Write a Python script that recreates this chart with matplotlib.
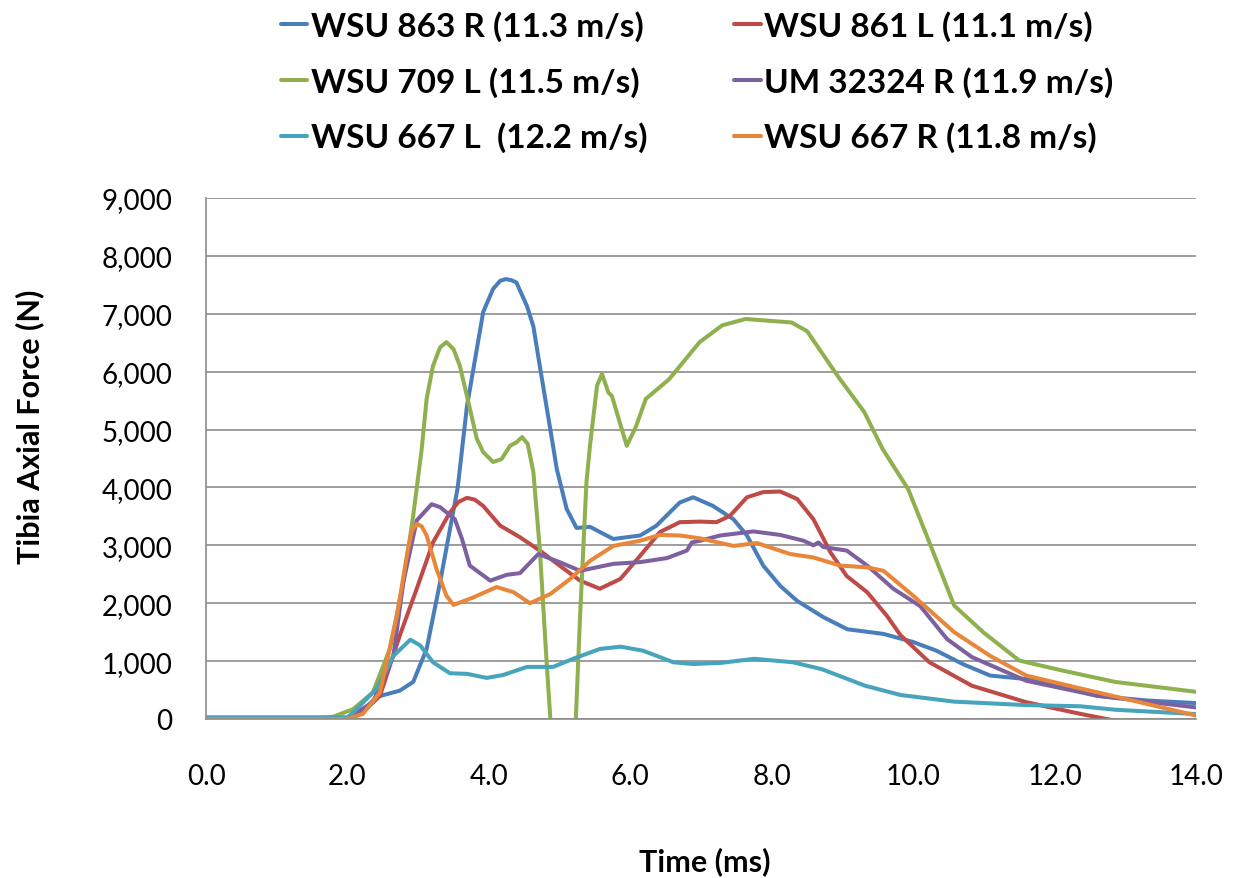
import matplotlib
matplotlib.use("Agg")
import matplotlib.pyplot as plt
from matplotlib.ticker import FuncFormatter, MultipleLocator

plt.rcParams["font.family"] = ["Lato", "DejaVu Sans"]

# Data (time in ms, force in N)
t_863r = [0, 1.0, 2.0, 2.2, 2.41, 2.74, 2.93, 3.12, 3.31, 3.56, 3.69, 3.92, 4.06, 4.16, 4.24,
          4.32, 4.39, 4.54, 4.63, 4.72, 4.91, 4.96, 5.1, 5.24, 5.43, 5.57, 5.76, 6.14, 6.37,
          6.7, 6.89, 7.17, 7.46, 7.65, 7.88, 8.12, 8.36, 8.73, 9.07, 9.58, 10.0, 10.33, 10.7,
          11.09, 11.6, 12.1, 12.6, 13.3, 14.0]
f_863r = [0, 0, 0, 120, 380, 490, 640, 1210, 2360, 4000, 5400, 7030, 7430, 7570, 7600,
          7580, 7540, 7130, 6780, 6100, 4700, 4320, 3630, 3300, 3320, 3230, 3110, 3170, 3340,
          3740, 3830, 3680, 3450, 3170, 2650, 2300, 2040, 1760, 1550, 1470, 1330, 1180, 950,
          750, 690, 560, 400, 320, 275]

t_861l = [0, 2.04, 2.2, 2.46, 2.74, 2.98, 3.21, 3.45, 3.57, 3.69, 3.8, 3.92, 4.16, 4.44, 4.72,
          5.0, 5.29, 5.57, 5.86, 6.14, 6.42, 6.7, 6.99, 7.22, 7.41, 7.65, 7.88, 8.12, 8.36,
          8.59, 8.83, 9.06, 9.35, 9.63, 9.82, 10.23, 10.83, 11.6, 12.36, 12.86, 14.0]
f_861l = [0, 0, 100, 400, 1440, 2250, 3050, 3570, 3750, 3820, 3790, 3680, 3340, 3140, 2910,
          2650, 2390, 2250, 2420, 2820, 3230, 3400, 3410, 3400, 3510, 3830, 3920, 3930, 3800,
          3450, 2880, 2470, 2190, 1780, 1450, 980, 575, 290, 90, -30, -400]

t_709l = [0, 1.5, 1.8, 2.08, 2.36, 2.6, 2.79, 2.93, 3.05, 3.12, 3.21, 3.31, 3.4, 3.5, 3.59,
          3.69, 3.83, 3.92, 4.06, 4.18, 4.3, 4.39, 4.47, 4.55, 4.63, 4.72, 4.82, 4.87, 5.05,
          5.23, 5.29, 5.38, 5.43, 5.53, 5.6, 5.69, 5.74, 5.95, 6.08, 6.22, 6.55, 6.98, 7.3,
          7.63, 8.28, 8.5, 8.93, 9.31, 9.57, 9.93, 10.23, 10.58, 10.99, 11.5, 12.1, 12.86, 14.0]
f_709l = [0, 0, 40, 170, 460, 1210, 2360, 3510, 4660, 5530, 6100, 6420, 6510, 6390, 6100,
          5580, 4840, 4610, 4440, 4490, 4720, 4780, 4870, 4750, 4260, 2940, 920, 0, -1500,
          0, 1780, 4090, 4720, 5760, 5960, 5640, 5580, 4720, 5050, 5530, 5870, 6510, 6800,
          6910, 6850, 6700, 5930, 5300, 4660, 3970, 3050, 1960, 1500, 1010, 840, 640, 470]

t_um32324r = [0, 2.0, 2.36, 2.65, 2.79, 2.98, 3.19, 3.31, 3.52, 3.62, 3.73, 4.02, 4.25, 4.44,
              4.7, 5.0, 5.29, 5.76, 6.14, 6.52, 6.8, 6.87, 6.99, 7.27, 7.74, 8.12, 8.45, 8.59,
              8.66, 8.73, 9.06, 9.35, 9.72, 10.1, 10.48, 10.83, 11.6, 12.61, 14.0]
f_um32324r = [0, 10, 290, 1090, 2360, 3430, 3710, 3660, 3450, 3110, 2650, 2390, 2490, 2520,
              2850, 2710, 2560, 2680, 2710, 2780, 2910, 3050, 3080, 3170, 3240, 3180, 3080, 3000,
              3050, 2970, 2910, 2650, 2250, 1950, 1380, 1070, 660, 400, 200]

t_667l = [0, 2.0, 2.08, 2.41, 2.65, 2.89, 3.03, 3.21, 3.45, 3.69, 3.97, 4.2, 4.54, 4.91, 5.19,
          5.57, 5.86, 6.18, 6.61, 6.89, 7.29, 7.75, 8.3, 8.71, 9.32, 9.82, 10.58, 11.6, 12.36,
          12.86, 14.0]
f_667l = [30, 30, 110, 520, 1090, 1370, 1270, 980, 790, 780, 710, 760, 900, 900, 1040,
          1210, 1250, 1180, 980, 950, 970, 1040, 980, 860, 575, 415, 300, 240, 220,
          160, 85]

t_667r = [0, 2.0, 2.22, 2.46, 2.7, 2.84, 2.91, 2.98, 3.05, 3.12, 3.26, 3.4, 3.5, 3.78, 4.11,
          4.35, 4.58, 4.87, 5.15, 5.43, 5.76, 6.14, 6.42, 6.7, 6.99, 7.46, 7.79, 8.26, 8.59,
          8.97, 9.35, 9.58, 10.0, 10.58, 11.09, 11.6, 12.36, 13.1, 14.0]
f_667r = [0, 0, 90, 460, 1780, 2820, 3250, 3370, 3330, 3170, 2590, 2130, 1970, 2100, 2280,
          2190, 2000, 2160, 2420, 2730, 2990, 3080, 3180, 3170, 3120, 2990, 3040, 2850, 2790,
          2650, 2620, 2560, 2130, 1500, 1090, 750, 530, 320, 60]

labels = ["WSU 863 R (11.3 m/s)", "WSU 861 L (11.1 m/s)", "WSU 709 L (11.5 m/s)",
          "UM 32324 R (11.9 m/s)", "WSU 667 L  (12.2 m/s)", "WSU 667 R (11.8 m/s)"]
colors = ["#4A7EBB", "#BE4B48", "#8FB04E", "#7D60A0", "#46A4BD", "#E8863A"]
times = [t_863r, t_861l, t_709l, t_um32324r, t_667l, t_667r]
forces = [f_863r, f_861l, f_709l, f_um32324r, f_667l, f_667r]

fig = plt.figure(figsize=(12.34, 8.79), dpi=100)
ax = fig.add_axes([206 / 1234, 1 - 720 / 879, 990 / 1234, 521 / 879])

lines = []
for t, f, c, lab in zip(times, forces, colors, labels):
    ln, = ax.plot(t, f, color=c, lw=2.9, label=lab, solid_joinstyle="round",
                  solid_capstyle="round")
    lines.append(ln)

ax.set_xlim(0, 14)
ax.set_ylim(0, 9000)
ax.xaxis.set_major_locator(MultipleLocator(2))
ax.yaxis.set_major_locator(MultipleLocator(1000))
ax.xaxis.set_major_formatter(FuncFormatter(lambda v, p: f"{v:.1f}"))
ax.yaxis.set_major_formatter(FuncFormatter(lambda v, p: f"{v:,.0f}"))
ax.grid(axis="y", color="#8C8C8C", lw=1.2)
ax.set_axisbelow(True)
ax.tick_params(axis="both", length=0, labelsize=20, colors="black")
ax.tick_params(axis="y", pad=24)
ax.tick_params(axis="x", pad=32)

for side in ["right", "top"]:
    ax.spines[side].set_visible(False)
for side in ["left", "bottom"]:
    ax.spines[side].set_color("#8C8C8C")
    ax.spines[side].set_linewidth(1.2)

ax.set_ylabel("Tibia Axial Force (N)", fontsize=22, fontweight="bold")
ax.set_xlabel("Time (ms)", fontsize=22, fontweight="bold")
ax.yaxis.set_label_coords(-0.163, 0.562)
ax.xaxis.set_label_coords(0.504, -0.244)

# legend in 3 rows x 2 columns, filled row by row like Excel
order = [0, 2, 4, 1, 3, 5]
leg = fig.legend([lines[i] for i in order], [labels[i] for i in order],
                 loc="upper center", bbox_to_anchor=(697 / 1234, 1.014), ncol=2,
                 frameon=False, prop={"weight": "bold", "size": 24},
                 handlelength=0.8, handletextpad=0.1, columnspacing=2.6,
                 labelspacing=0.75, borderpad=0.2)

fig.savefig("out.png", dpi=100)
